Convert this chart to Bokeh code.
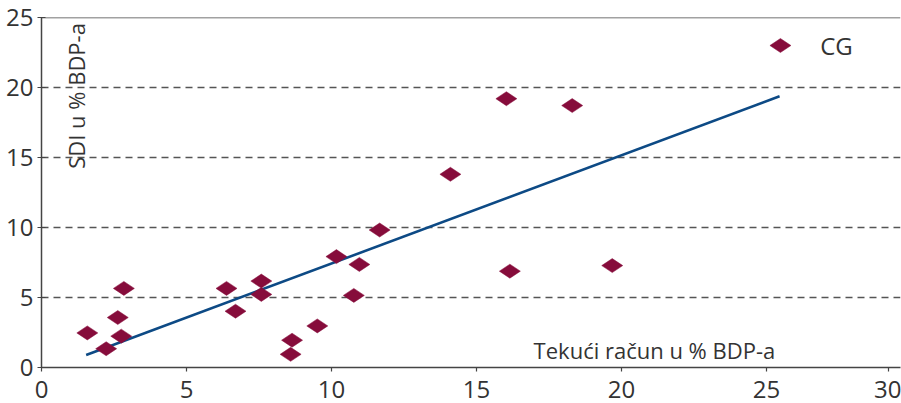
import math
from bokeh.plotting import figure
from bokeh.models import (Range1d, FixedTicker, Span, Label, ColumnDataSource)
from bokeh.embed import file_html
from bokeh.resources import INLINE

# ---- data ----
cg_x = [1.58, 2.23, 2.63, 2.75, 2.84, 6.38, 6.69, 7.58, 7.58, 8.64, 8.59,
        9.51, 10.17, 10.96, 10.77, 11.66, 14.10, 16.03, 16.15, 18.30, 19.68]
cg_y = [2.47, 1.34, 3.57, 2.24, 5.65, 5.65, 4.02, 6.17, 5.22, 1.95, 0.94,
        2.97, 7.92, 7.36, 5.15, 9.82, 13.80, 19.20, 6.88, 18.71, 7.28]
trend_x = [1.54, 25.45]
trend_y = [0.89, 19.37]
x_ticks = [0, 5, 10, 15, 20, 25]
x_last_tick_label = "30"
y_ticks = [0, 5, 10, 15, 20, 25]
series_name = "CG"
x_title = "Tekući račun u % BDP-a"
y_title = "SDI u % BDP-a"

FONT = "Open Sans"
TXT = "#333333"
AX = "#444444"
RED = "#860C3B"
BLUE = "#0D4A85"

X_END = 29.62
p = figure(width=901, height=403, output_backend="svg", toolbar_location=None,
           x_range=Range1d(0, X_END), y_range=Range1d(0, 25),
           min_border_left=41, min_border_right=1, min_border_top=17,
           min_border_bottom=36)
p.outline_line_color = None
p.background_fill_color = "white"
p.border_fill_color = "white"

# axes
for ax in (p.xaxis[0], p.yaxis[0]):
    ax.axis_line_color = AX
    ax.axis_line_width = 1.5
    ax.major_tick_line_color = AX
    ax.major_tick_line_width = 1.2
    ax.minor_tick_line_color = None
    ax.major_label_text_font = FONT
    ax.major_label_text_font_size = "24px"
    ax.major_label_text_color = TXT
    ax.major_tick_out = 4

# the "30" label sits just inside the cut-off right edge, as in the original
last_pos = X_END - 0.42
p.xaxis[0].ticker = FixedTicker(ticks=x_ticks + [last_pos])
p.xaxis[0].major_label_overrides = {last_pos: x_last_tick_label}
p.yaxis[0].ticker = FixedTicker(ticks=y_ticks)
p.xaxis[0].major_tick_in = 0
p.yaxis[0].major_tick_in = 4
p.xaxis[0].major_label_standoff = 9
p.xaxis[0].major_label_text_line_height = 1.0
p.yaxis[0].major_label_standoff = 4

# grid
p.xgrid.grid_line_color = None
p.ygrid.ticker = FixedTicker(ticks=y_ticks[1:-1])
p.ygrid.grid_line_color = "#555555"
p.ygrid.grid_line_dash = "7 5"
p.ygrid.grid_line_width = 1.3

# top border line
p.add_layout(Span(location=y_ticks[-1], dimension="width", line_color=AX, line_width=1.5))

# trend line
p.line(trend_x, trend_y, line_color=BLUE, line_width=2.6)

# scatter (flattened diamonds)
src = ColumnDataSource(dict(x=cg_x, y=cg_y))
p.scatter("x", "y", source=src, marker="diamond", size=21, angle=math.pi / 2,
          fill_color=RED, line_color=RED, line_width=0.5)

# legend key (drawn by hand so the key diamond keeps the flattened shape)
key = ColumnDataSource(dict(x=[25.48], y=[23.0]))
p.scatter("x", "y", source=key, marker="diamond", size=21, angle=math.pi / 2,
          fill_color=RED, line_color=RED, line_width=0.5)
p.add_layout(Label(x=26.85, y=23.0, text=series_name, text_align="left",
                   text_baseline="middle", text_font=FONT,
                   text_font_size="24px", text_color=TXT))

# axis titles (drawn inside the plot like the reference)
p.add_layout(Label(x=25.3, y=1.25, text=x_title, text_align="right",
                   text_baseline="alphabetic", text_font=FONT,
                   text_font_size="22px", text_color=TXT))
p.add_layout(Label(x=1.2, y=24.6, text=y_title, angle=math.pi / 2,
                   text_align="right", text_baseline="middle", text_font=FONT,
                   text_font_size="22px", text_color=TXT))

open("out.html", "w").write(file_html(p, INLINE))
